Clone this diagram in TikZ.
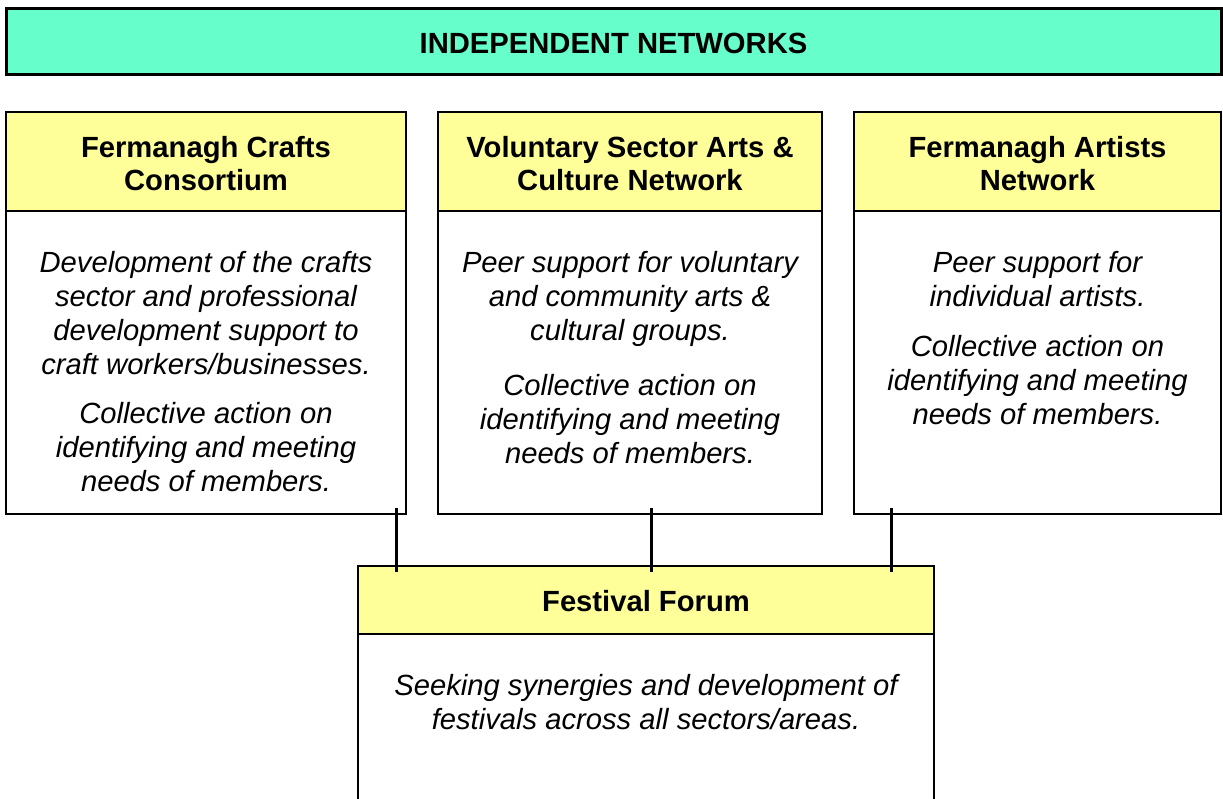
\documentclass[tikz,border=0pt]{standalone}
\usepackage{fontspec}
\setmainfont{Liberation Sans}
\definecolor{topfill}{HTML}{66FFCC}
\definecolor{hdrfill}{HTML}{FFFF99}
\begin{document}
\begin{tikzpicture}[x=1pt,y=-1pt,
  topbox/.style={draw=black, line width=3pt, fill=topfill, minimum width=1215pt, minimum height=66pt, inner sep=0pt},
  hdr/.style={draw=black, line width=2pt, fill=hdrfill, inner sep=0pt},
  hdrtext/.style={align=center, inner sep=0pt, font=\fontsize{29.2}{33}\selectfont\bfseries},
  bodybox/.style={draw=black, line width=2pt, fill=white, inner sep=0pt},
  bodytext/.style={align=center, inner sep=0pt, anchor=north,
    font=\fontsize{29.2}{34}\selectfont\itshape},
  conn/.style={draw=black, line width=3pt}]
\useasboundingbox (0,0) rectangle (1223,798);
\fill[white] (0,0) rectangle (1223,798);

\node[topbox] (top) at (613.5,41) {};
\node[hdrtext] (toptext) at (613.5,43) {INDEPENDENT NETWORKS};

% box 1
\node[bodybox, minimum width=400pt, minimum height=303pt] (b1) at (206,362.5) {};
\node[hdr, minimum width=400pt, minimum height=99pt] (h1) at (206,161.5) {};
\node[hdrtext] (h1t) at (206,163.5) {Fermanagh Crafts\\Consortium};
\node[bodytext] (t1) at (206,251.5) {Development of the crafts\\sector and professional\\development support to\\craft workers/businesses.\\[15pt]Collective action on\\identifying and meeting\\needs of members.};

% box 2
\node[bodybox, minimum width=384pt, minimum height=303pt] (b2) at (630,362.5) {};
\node[hdr, minimum width=384pt, minimum height=99pt] (h2) at (630,161.5) {};
\node[hdrtext] (h2t) at (630,163.5) {Voluntary Sector Arts \&\\Culture Network};
\node[bodytext] (t2) at (630,251.5) {Peer support for voluntary\\and community arts \&\\cultural groups.\\[21pt]Collective action on\\identifying and meeting\\needs of members.};

% box 3
\node[bodybox, minimum width=367pt, minimum height=303pt] (b3) at (1037.5,362.5) {};
\node[hdr, minimum width=367pt, minimum height=99pt] (h3) at (1037.5,161.5) {};
\node[hdrtext] (h3t) at (1037.5,163.5) {Fermanagh Artists\\Network};
\node[bodytext] (t3) at (1037.5,251.5) {Peer support for\\individual artists.\\[16pt]Collective action on\\identifying and meeting\\needs of members.};

% festival forum
\node[bodybox, line width=1.6pt, minimum width=576pt, minimum height=240pt] (b4) at (646,686) {};
\node[hdr, line width=1.6pt, minimum width=576pt, minimum height=68pt] (h4) at (646,600) {};
\node[hdrtext] (h4t) at (646,601.5) {Festival Forum};
\node[bodytext] (t4) at (646,674) {Seeking synergies and development of\\festivals across all sectors/areas.};

% connectors
\coordinate (c1a) at (396,508); \coordinate (c1b) at (396,572);
\coordinate (c2a) at (651,508); \coordinate (c2b) at (651,572);
\coordinate (c3a) at (891,508); \coordinate (c3b) at (891,572);
\draw[conn] (c1a) -- (c1b);
\draw[conn] (c2a) -- (c2b);
\draw[conn] (c3a) -- (c3b);
\end{tikzpicture}
\end{document}
